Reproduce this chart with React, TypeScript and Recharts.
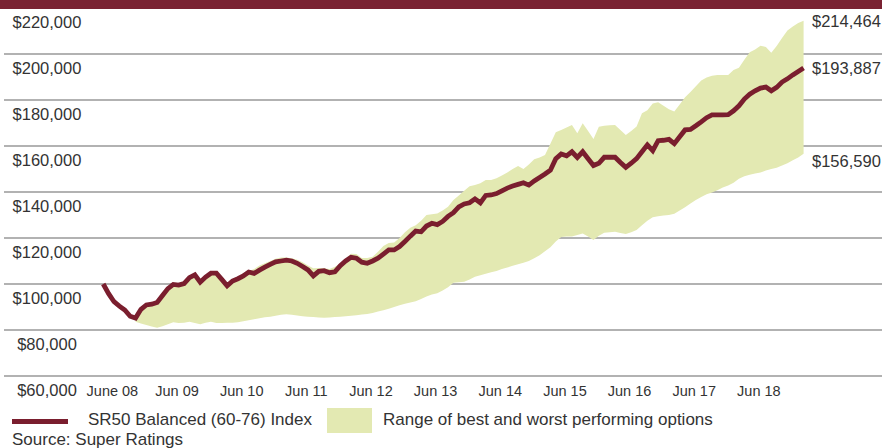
import { ComposedChart, Area, Line, XAxis, YAxis, CartesianGrid } from 'recharts'

document.body.style.margin = '0'

// months since June 2008 (0 = Jun 08, 130 = Apr 19)
const xTicks = [1.7, 13.7, 25.7, 37.7, 49.7, 61.7, 73.7, 85.7, 97.7, 109.7, 121.7]
const xTickLabels = ['June 08', 'Jun 09', 'Jun 10', 'Jun 11', 'Jun 12', 'Jun 13', 'Jun 14', 'Jun 15', 'Jun 16', 'Jun 17', 'Jun 18']
const yTicks = [60000, 80000, 100000, 120000, 140000, 160000, 180000, 200000, 220000]
const endValues = [214464, 193887, 156590]
const endLabelShift = [0, 0, 7]

// SR50 Balanced index, $000 per month
const indexK = [
  100.0, 95.8, 92.3, 90.4, 88.7, 86.0, 85.2, 89.0, 90.9, 91.2,
  92.0, 95.0, 98.0, 99.8, 99.5, 100.2, 102.8, 104.0, 100.8, 103.0,
  104.7, 104.7, 102.0, 99.2, 101.3, 102.3, 103.5, 105.2, 104.6, 106.0,
  107.3, 108.5, 109.6, 110.0, 110.4, 110.0, 109.0, 107.6, 106.1, 103.5,
  105.5, 105.8, 104.9, 105.3, 108.0, 110.0, 111.6, 111.2, 109.5, 109.0,
  110.0, 111.2, 113.0, 114.8, 114.8, 116.3, 118.5, 120.8, 123.0, 122.7,
  125.2, 126.4, 125.8, 127.2, 129.4, 131.0, 133.5, 134.8, 135.3, 137.0,
  135.3, 138.5, 138.7, 139.3, 140.5, 141.7, 142.6, 143.3, 144.0, 143.0,
  144.8, 146.3, 147.8, 149.5, 154.5, 156.5, 155.7, 157.5, 155.0, 157.5,
  154.5, 151.5, 152.5, 155.1, 155.1, 155.1, 152.8, 150.7, 152.5, 154.5,
  157.5, 160.5, 158.0, 162.3, 162.5, 162.9, 161.0, 164.0, 167.0, 167.2,
  168.8, 170.5, 172.3, 173.5, 173.5, 173.5, 173.6, 175.3, 177.5, 180.4,
  182.5, 184.0, 185.2, 185.6, 184.0, 185.5, 187.8, 189.2, 190.9, 192.4,
  193.887,
]

// best performing option, $000 (starts month 6)
const bestK = [
  null, null, null, null, null, null, 85.5, 89.0, 90.9, 91.2,
  92.0, 95.0, 98.0, 99.8, 99.5, 100.2, 102.8, 104.0, 101.0, 103.0,
  104.7, 104.7, 102.5, 100.0, 101.5, 102.5, 104.0, 105.5, 106.5, 108.0,
  109.0, 110.0, 111.0, 111.5, 111.5, 111.2, 110.5, 109.5, 108.0, 106.8,
  107.0, 106.8, 106.5, 107.5, 109.0, 111.0, 113.2, 113.0, 111.3, 111.3,
  111.8, 114.0, 116.5, 117.8, 118.0, 120.0, 122.5, 124.5, 125.5, 127.5,
  130.0, 130.3, 130.7, 132.0, 133.6, 136.5, 138.5, 140.5, 142.5, 143.0,
  143.8, 145.2, 145.2, 146.0, 147.2, 148.5, 150.0, 151.3, 150.0, 152.0,
  154.2, 155.0, 156.1, 161.0, 166.0, 167.0, 168.0, 169.1, 165.5, 169.9,
  166.5, 163.0, 168.4, 168.8, 169.0, 169.1, 167.0, 164.8, 166.5, 168.5,
  174.2, 175.5, 178.5, 179.0, 177.5, 176.0, 175.0, 178.0, 181.2, 183.5,
  186.0, 188.5, 189.8, 190.5, 190.9, 190.9, 190.9, 193.0, 194.0, 197.5,
  200.8, 202.0, 203.6, 203.0, 200.5, 203.5, 207.0, 210.2, 212.0, 213.5,
  214.464,
]

// worst performing option, $000 (starts month 6)
const worstK = [
  null, null, null, null, null, null, 83.6, 82.8, 82.2, 81.5,
  81.0, 81.6, 82.5, 83.4, 83.0, 83.2, 83.6, 83.0, 82.5, 83.2,
  83.6, 83.0, 83.0, 83.1, 83.2, 83.4, 83.8, 84.2, 84.7, 85.1,
  85.5, 85.8, 86.2, 86.6, 86.8, 86.6, 86.3, 86.0, 85.8, 85.6,
  85.4, 85.3, 85.4, 85.6, 85.8, 86.0, 86.2, 86.4, 86.7, 87.0,
  87.4, 88.0, 88.6, 89.2, 90.0, 90.8, 91.4, 92.0, 92.5, 93.5,
  94.6, 95.4, 96.0, 97.2, 98.6, 100.5, 100.8, 101.0, 102.0, 103.2,
  103.8, 104.5, 105.1, 105.7, 106.5, 107.2, 107.9, 108.6, 109.2, 110.0,
  111.2, 112.5, 114.2, 116.0, 118.5, 120.4, 120.6, 120.6, 121.3, 122.0,
  120.6, 119.1, 121.0, 122.3, 122.5, 122.7, 122.2, 121.7, 122.5, 123.5,
  125.5, 127.5, 129.0, 129.5, 129.8, 130.0, 130.5, 132.0, 133.4, 135.0,
  136.5, 137.8, 139.0, 139.8, 140.8, 142.0, 142.8, 144.0, 145.8, 146.8,
  147.5, 148.0, 148.5, 149.3, 150.0, 150.5, 151.5, 152.5, 153.8, 155.0,
  156.59,
]

const LINE_COLOR = '#7a1e2e'
const BAND_COLOR = '#e3e9b2'
const TEXT_COLOR = '#333'
const FONT = '"Liberation Sans", Arial, sans-serif'

const data = indexK.map((v, i) => ({
  m: i,
  index: v * 1000,
  range: bestK[i] == null || worstK[i] == null ? null : [worstK[i]! * 1000, bestK[i]! * 1000],
}))

const fmt = (v: number) => '$' + v.toLocaleString('en-US')

const LeftTick = (props: any) => {
  const { y, payload } = props
  return (
    <text x={47} y={y + 20} textAnchor="middle" fontSize={16.5} fill={TEXT_COLOR} fontFamily={FONT}>
      {fmt(payload.value)}
    </text>
  )
}

const RightTick = (props: any) => {
  const { y, payload, index } = props
  return (
    <text x={812} y={y + 6 + (endLabelShift[index] || 0)} textAnchor="start" fontSize={16.5} fill={TEXT_COLOR} fontFamily={FONT}>
      {fmt(payload.value)}
    </text>
  )
}

const BottomTick = (props: any) => {
  const { x, y, index } = props
  return (
    <text x={x} y={y + 12} textAnchor="middle" fontSize={14.5} fill={TEXT_COLOR} fontFamily={FONT}>
      {xTickLabels[index]}
    </text>
  )
}

export default function App() {
  return (
    <div style={{ position: 'relative', width: 882, height: 448, background: '#fff', overflow: 'hidden', fontFamily: FONT }}>
      <ComposedChart width={882} height={448} data={data} margin={{ top: 8, right: -1, bottom: 42, left: 4 }}>
        <XAxis
          dataKey="m"
          type="number"
          domain={[-18.42, 144.74]}
          allowDataOverflow
          ticks={xTicks}
          tick={<BottomTick />}
          axisLine={false}
          tickLine={false}
          height={30}
          interval={0}
        />
        <YAxis
          yAxisId="left"
          orientation="left"
          type="number"
          domain={[60000, 220000]}
          allowDataOverflow
          ticks={yTicks}
          tick={<LeftTick />}
          axisLine={false}
          tickLine={false}
          mirror
          width={1}
          interval={0}
        />
        <YAxis
          yAxisId="right"
          orientation="right"
          type="number"
          domain={[60000, 220000]}
          allowDataOverflow
          ticks={endValues}
          tick={<RightTick />}
          axisLine={false}
          tickLine={false}
          mirror
          width={1}
          interval={0}
        />
        <Area
          yAxisId="left"
          dataKey="range"
          stroke="none"
          fill={BAND_COLOR}
          fillOpacity={1}
          isAnimationActive={false}
          activeDot={false}
        />
        <CartesianGrid yAxisId="left" vertical={false} stroke="#999" strokeWidth={1.4} />
        <Line
          yAxisId="left"
          dataKey="index"
          stroke={LINE_COLOR}
          strokeWidth={4.8}
          dot={false}
          isAnimationActive={false}
        />
      </ComposedChart>

      <div style={{ position: 'absolute', left: 0, top: 0, width: 882, height: 9, background: '#7a2232' }} />

      <div style={{ position: 'absolute', left: 12, top: 419, width: 56, height: 5, background: LINE_COLOR }} />
      <div style={{ position: 'absolute', left: 88, top: 410, fontSize: 17, color: TEXT_COLOR, whiteSpace: 'nowrap' }}>
        SR50 Balanced (60-76) Index
      </div>
      <div style={{ position: 'absolute', left: 327, top: 408, width: 45, height: 25, background: BAND_COLOR }} />
      <div style={{ position: 'absolute', left: 383, top: 410, fontSize: 17, color: TEXT_COLOR, whiteSpace: 'nowrap' }}>
        Range of best and worst performing options
      </div>
      <div style={{ position: 'absolute', left: 12, top: 430, fontSize: 17, color: TEXT_COLOR, whiteSpace: 'nowrap' }}>
        Source: Super Ratings
      </div>
    </div>
  )
}
